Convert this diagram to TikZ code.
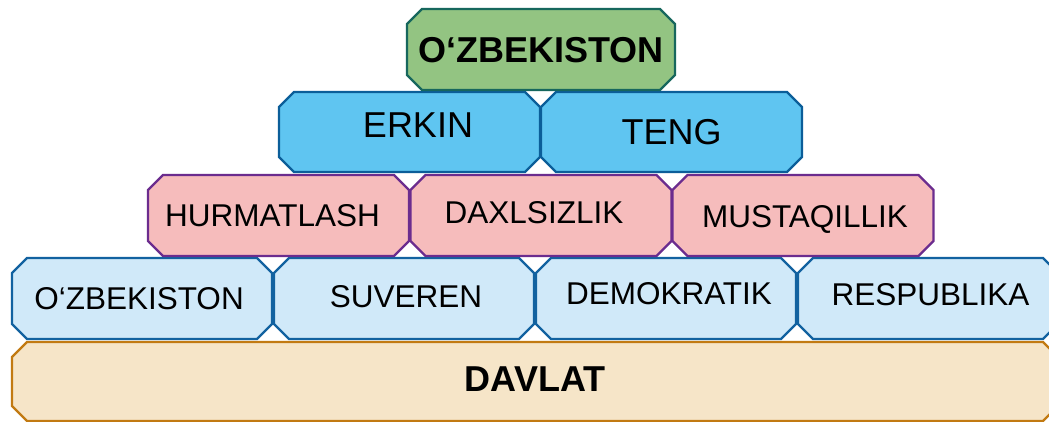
\documentclass[tikz,border=0pt]{standalone}
\usepackage{fontspec}
\setmainfont{Liberation Sans}
\usetikzlibrary{backgrounds}
\definecolor{topfill}{HTML}{93C482}
\definecolor{topdraw}{HTML}{17675D}
\definecolor{rtwofill}{HTML}{5FC5F1}
\definecolor{rtwodraw}{HTML}{0B5E99}
\definecolor{rthreefill}{HTML}{F6BCBC}
\definecolor{rthreedraw}{HTML}{6B2C8E}
\definecolor{rfourfill}{HTML}{D0E9F9}
\definecolor{rfourdraw}{HTML}{1262A0}
\definecolor{basefill}{HTML}{F6E5C8}
\definecolor{basedraw}{HTML}{C27A12}
\begin{document}
\begin{tikzpicture}[x=1pt,y=-1pt,
  box/.style={rectangle, inner sep=0pt, outer sep=0pt, minimum width=261pt, minimum height=81pt},
  frame/.style={line width=2.2pt, line join=miter},
  every label/.style={inner sep=0pt, text depth=0pt},
  bigb/.style={font=\fontsize{36}{40}\selectfont\bfseries, text height=25.8pt},
  big/.style={font=\fontsize{36}{40}\selectfont, text height=25.8pt},
  mid/.style={font=\fontsize{31.5}{36}\selectfont, text height=22.55pt},
  topbox/.style={box, minimum width=268pt},
  rtwo/.style={box, minimum height=80pt},
  rthree/.style={box},
  rfour/.style={box, minimum width=260pt},
  base/.style={box, minimum width=1046pt, minimum height=79pt}
]
\clip (0,0) rectangle (1049,421);
% base
\node[base, label={[bigb, yshift=2.5pt]center:DAVLAT}] (davlat) at (535,381.5) {};
% row 4
\node[rfour, label={[mid, xshift=-3pt]center:O‘ZBEKISTON}] (uzb) at (142,298.5) {};
\node[rfour, label={[mid, xshift=2pt, yshift=2.5pt]center:SUVEREN}] (suveren) at (404,298.5) {};
\node[rfour, label={[mid, xshift=3pt, yshift=5pt]center:DEMOKRATIK}] (demokratik) at (666,298.5) {};
\node[rfour, label={[mid, xshift=2.5pt, yshift=4.5pt]center:RESPUBLIKA}] (respublika) at (928,298.5) {};
% row 3
\node[rthree, label={[mid, xshift=-6pt]center:HURMATLASH}] (hurmat) at (278.5,215.5) {};
\node[rthree, label={[mid, xshift=-7pt, yshift=3pt]center:DAXLSIZLIK}] (daxl) at (541,215.5) {};
\node[rthree, label={[mid, xshift=2pt, yshift=-0.5pt]center:MUSTAQILLIK}] (mustaq) at (803,215.5) {};
% row 2
\node[rtwo, label={[big, xshift=8.5pt, yshift=7pt]center:ERKIN}] (erkin) at (409.5,132) {};
\node[rtwo, label={[big]center:TENG}] (teng) at (671.5,132) {};
% top
\node[topbox, label={[bigb]center:O‘ZBEKISTON}] (top) at (541,49.5) {};
\begin{scope}[on background layer]
  \fill[white] (0,0) rectangle (1049,421);
  \foreach \n/\f/\d in {davlat/basefill/basedraw,
      uzb/rfourfill/rfourdraw, suveren/rfourfill/rfourdraw, demokratik/rfourfill/rfourdraw, respublika/rfourfill/rfourdraw,
      hurmat/rthreefill/rthreedraw, daxl/rthreefill/rthreedraw, mustaq/rthreefill/rthreedraw,
      erkin/rtwofill/rtwodraw, teng/rtwofill/rtwodraw, top/topfill/topdraw}
    \draw[frame, fill=\f, draw=\d]
      ([xshift=15pt]\n.north west) -- ([xshift=-15pt]\n.north east)
      -- ([yshift=-15pt]\n.north east) -- ([yshift=15pt]\n.south east)
      -- ([xshift=-15pt]\n.south east) -- ([xshift=15pt]\n.south west)
      -- ([yshift=15pt]\n.south west) -- ([yshift=-15pt]\n.north west) -- cycle;
\end{scope}
\end{tikzpicture}
\end{document}
